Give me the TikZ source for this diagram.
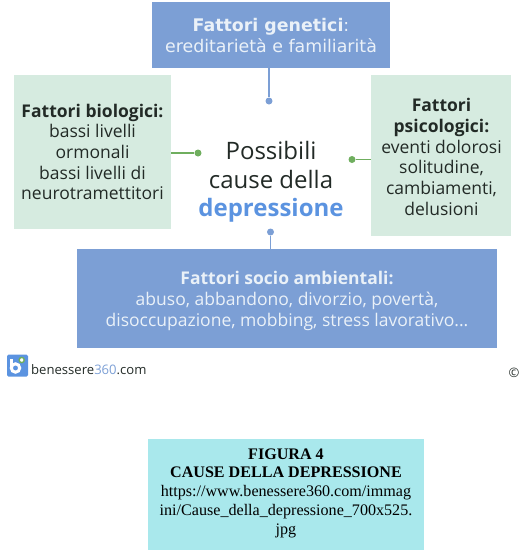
\documentclass[tikz,border=0pt]{standalone}
\usepackage{fontspec}
\setmainfont{Open Sans}
\newfontfamily\capfont{Liberation Serif}
\newfontfamily\topfont{DejaVu Sans}
\definecolor{bluebox}{HTML}{7C9FD5}
\definecolor{greenbox}{HTML}{D6EBE0}
\definecolor{bluetxt}{HTML}{5B93E0}
\definecolor{greenln}{HTML}{6FAE5E}
\definecolor{capbg}{HTML}{A9E8EC}
\definecolor{whitetxt}{HTML}{EAF1F8}
\definecolor{darktxt}{HTML}{222A26}
\newcommand{\fs}[2]{\fontsize{#1}{#2}\selectfont}
\tikzset{
  x=1pt,y=-1pt,
  panel/.style={anchor=north west,inner sep=0pt,outer sep=0pt},
  bluepanel/.style={panel,fill=bluebox},
  greenpanel/.style={panel,fill=greenbox},
  label/.style={align=center,inner sep=0pt,font=\fs{17.5}{20.7}},
  bluedot/.style={circle,fill=bluebox,inner sep=0pt,minimum size=7pt},
  greendot/.style={circle,fill=greenln,inner sep=0pt,minimum size=7pt},
  blueline/.style={draw=bluebox,line width=1.6pt},
  greenline/.style={draw=greenln,line width=1.6pt},
}
\begin{document}
\begin{tikzpicture}
\useasboundingbox (0,0) rectangle (523,550);
% panels
\node[bluepanel,minimum width=238pt,minimum height=66pt] (top) at (152,2) {};
\node[greenpanel,minimum width=157pt,minimum height=154pt] (left) at (14,75) {};
\node[greenpanel,minimum width=140pt,minimum height=161pt] (right) at (371,75) {};
\node[bluepanel,minimum width=420pt,minimum height=99pt] (bottom) at (77,249) {};
\node[panel,fill=capbg,minimum width=276pt,minimum height=111pt] (cap) at (148,439) {};
% texts
\node[label,text=whitetxt,font=\topfont\fs{17.4}{20.7}] (toptxt) at (271,35.5) {\textbf{Fattori genetici}:\\ereditarietà e familiarità};
\node[label,text=darktxt] (lefttxt) at (92.5,152) {\textbf{Fattori biologici:}\\bassi livelli\\ormonali\\bassi livelli di\\neurotramettitori};
\node[label,text=darktxt] (righttxt) at (441.5,157) {\textbf{Fattori}\\\textbf{psicologici:}\\eventi dolorosi\\solitudine,\\cambiamenti,\\delusioni};
\node[label,text=whitetxt] (bottomtxt) at (287,301) {\textbf{Fattori socio ambientali:}\\abuso, abbandono, divorzio, povertà,\\disoccupazione, mobbing, stress lavorativo...};
\node[label,text=darktxt,font=\fs{24}{28.5}] (centre) at (271,182) {Possibili\\cause della\\\textcolor{bluetxt}{\textbf{depressione}}};
% connectors
\node[bluedot] (d1) at (269,101) {};
\node[greendot] (d2) at (198,153) {};
\node[greendot] (d3) at (352,159.5) {};
\node[bluedot] (d4) at (270.5,232) {};
\draw[blueline] (top.south -| d1) -- (d1);
\draw[greenline] (left.east |- d2) -- (d2);
\draw[greenline] (right.west |- d3) -- (d3);
\draw[blueline] (bottom.north -| d4) -- (d4);
% logo
\node[panel,fill=bluetxt,rounded corners=1.5pt,minimum width=21pt,minimum height=22pt] (logo) at (7,354.5) {};
\draw[white,line width=3pt] (11.5,359) -- (11.5,368);
\draw[white,line width=3pt] (15.5,368) circle (4.2pt);
\draw[greenln,fill=white,line width=1.4pt] (21.7,360) circle (2.6pt);
\node[anchor=west,inner sep=0pt,text=darktxt,font=\fs{13.1}{16}] (brand) at (31,369.5) {benessere\textcolor{bluebox}{360}.com};
\node[anchor=center,inner sep=0pt,text=darktxt,font=\fs{13}{14}] (copy) at (514,372.5) {©};
% caption
\node[label,text=black,font=\capfont\fs{16.1}{18.8}] (captxt) at (286,493) {\textbf{FIGURA 4}\\\textbf{CAUSE DELLA DEPRESSIONE}\\https://www.benessere360.com/immag\\ini/Cause\_della\_depressione\_700x525.\\jpg};
\end{tikzpicture}
\end{document}
